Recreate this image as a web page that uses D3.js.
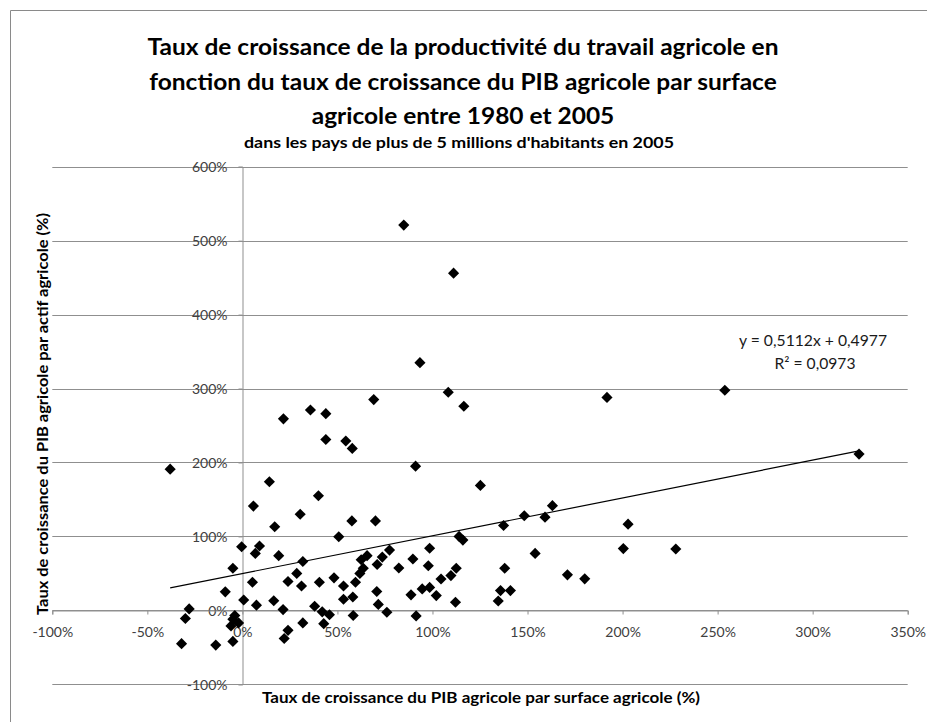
<!DOCTYPE html>
<html>
<head>
<meta charset="utf-8">
<script src="https://cdn.jsdelivr.net/npm/d3@7"></script>
<style>
  html, body { margin: 0; padding: 0; background: #fff; }
  svg { display: block; }
  text { font-family: Lato, "Open Sans", sans-serif; }
</style>
</head>
<body>
<svg id="chart" width="927" height="722"></svg>
<script>
// ---- Data (values in %) ----
const titleLines = [
  "Taux de croissance de la productivité du travail agricole en",
  "fonction du taux de croissance du PIB agricole par surface",
  "agricole entre 1980 et 2005"
];
const subtitle = "dans les pays de plus de 5 millions d'habitants en 2005";
const xAxisTitle = "Taux de croissance du PIB agricole par surface agricole (%)";
const yAxisTitle = "Taux de croissance du PIB agricole par actif agricole (%)";
const xTicks = [-100, -50, 0, 50, 100, 150, 200, 250, 300, 350];
const yTicks = [-100, 0, 100, 200, 300, 400, 500, 600];
// x: PIB agricole par surface growth (%)
const xValues = [
  -38, -28, -30, -32, -14, -5, -4, -5, -6, -2, -9, -5, -0.4,
  0.7, 7.4, 5.3, 6.8, 9, 5.8, 14.2, 17, 16.5, 19.1, 21.4, 21.6, 24, 24, 22,
  28.6, 31.8, 31.1, 31.8, 30.4, 35.8, 38, 40, 40.5, 42, 42.8, 43.9, 43.9, 45.8,
  48.2, 50.7, 53.2, 53.2, 54.4, 57.8, 57.6, 58.1, 58.3, 59.5,
  62.5, 65.6, 63.6, 61.8, 69.1, 70, 70.9, 70.7, 71.5, 73.6, 76, 77.4, 82.3,
  84.9, 88.7, 89.7, 91.1, 91.4, 93.4, 94.6, 97.8, 98.5, 98.5,
  102, 104.5, 108.3, 109.7, 111.1, 112.5, 112.1, 114, 116, 116.5, 125.2,
  134.6, 135.8, 137.4, 138, 141, 148.3, 154, 159.2, 163.1, 171, 180.1,
  191.8, 200.4, 202.9, 228, 253.8, 324.4
];
// y: productivité du travail agricole growth (%)
const yValues = [
  191, 2, -11, -45, -47, -42, -7, -12, -21, -17, 25, 57, 86,
  14, 7, 38, 77, 87, 141, 174, 113, 13, 74, 1, 259, 39, -27, -38,
  50, 66, 33, -17, 130, 271, 5.5, 155, 38, -2, -18, 266, 231, -6,
  44, 99.5, 33, 15, 229, 219, 121, 18, -7, 38,
  68.5, 74, 57, 50, 285, 121, 62, 25.5, 8, 72, -2.6, 81.5, 57.3,
  521, 21, 69.4, 195, -7.5, 335, 29, 60.4, 84, 31,
  20, 42.4, 295, 47, 456, 57, 11, 100, 95, 276, 169,
  12.7, 26.7, 114.7, 57, 26.7, 128, 77, 126, 141.6, 48, 42.6,
  288, 83.5, 116.6, 83, 297.6, 211.3
];
// Linear trend (Excel): y = 0,5112x + 0,4977  (fractions)
const trendSlope = 0.5112;
const trendIntercept = 0.4977;
const trendLabel = ["y = 0,5112x + 0,4977", "R² = 0,0973"];

// ---- Layout ----
const svg = d3.select("#chart");
const gridColor = "#8f8f8f";
const x = d3.scaleLinear().domain([-100, 350]).range([52.3, 907.7]);
const y = d3.scaleLinear().domain([-100, 600]).range([684.3, 166.7]);

// chart border (left & top visible)
svg.append("path")
  .attr("d", "M10.5,722 L10.5,10.5 L927,10.5")
  .attr("fill", "none").attr("stroke", "#8a8a8a").attr("stroke-width", 1);

function fit(sel, w) {
  sel.attr("textLength", w).attr("lengthAdjust", "spacingAndGlyphs");
}

// titles: uniform horizontal squeeze derived from first line width
const titleBase = [55, 90, 124];
const titleCx = 463;
const titleNodes = titleLines.map((t, i) =>
  svg.append("text").attr("x", titleCx).attr("y", titleBase[i])
    .attr("text-anchor", "middle").attr("font-size", 23.5).attr("font-weight", 700)
    .attr("fill", "#000").text(t));
const squeeze = 631 / titleNodes[0].node().getComputedTextLength();
titleNodes.forEach(n => n.call(fit, n.node().getComputedTextLength() * squeeze));

svg.append("text").attr("x", 459).attr("y", 148)
  .attr("text-anchor", "middle").attr("font-size", 16).attr("font-weight", 700)
  .attr("fill", "#000").text(subtitle).call(fit, 430);

// horizontal gridlines
svg.append("g").selectAll("line").data(yTicks).join("line")
  .attr("x1", x(-100)).attr("x2", x(350))
  .attr("y1", d => Math.round(y(d)) + 0.5).attr("y2", d => Math.round(y(d)) + 0.5)
  .attr("stroke", gridColor).attr("stroke-width", 1);

// y axis at x = 0
const yAxis = d3.axisLeft(y).tickValues(yTicks).tickSize(4).tickPadding(11)
  .tickFormat(d => d + "%");
const gy = svg.append("g").attr("transform", `translate(${Math.round(x(0)) + 0.5},0)`).call(yAxis);
gy.select(".domain").attr("stroke", gridColor);
gy.selectAll(".tick line").attr("stroke", gridColor);
gy.selectAll(".tick text").attr("font-family", "Lato, sans-serif").attr("font-size", 14)
  .attr("fill", "#404040").attr("dy", "0.36em");

// x axis at y = 0
const xAxis = d3.axisBottom(x).tickValues(xTicks).tickSize(4).tickPadding(13)
  .tickFormat(d => d + "%");
const gx = svg.append("g").attr("transform", `translate(0,${Math.round(y(0)) + 0.5})`).call(xAxis);
gx.select(".domain").attr("stroke", gridColor);
gx.selectAll(".tick line").attr("stroke", gridColor);
gx.selectAll(".tick text").attr("font-family", "Lato, sans-serif").attr("font-size", 14)
  .attr("fill", "#404040");

// axis titles
svg.append("text").attr("x", 481).attr("y", 703)
  .attr("text-anchor", "middle").attr("font-size", 15).attr("font-weight", 700)
  .attr("fill", "#000").text(xAxisTitle).call(fit, 438);
svg.append("text").attr("transform", "translate(48,414) rotate(-90)")
  .attr("text-anchor", "middle").attr("font-size", 15).attr("font-weight", 700)
  .attr("fill", "#000").text(yAxisTitle).call(fit, 402);

// points
const pts = xValues.map((v, i) => ({ x: v, y: yValues[i] }));
const sym = d3.symbol().type(d3.symbolSquare).size(62);
svg.append("g").selectAll("path").data(pts).join("path")
  .attr("d", sym)
  .attr("transform", d => `translate(${x(d.x)},${y(d.y)}) rotate(45)`)
  .attr("fill", "#000");

// trendline
const xMin = d3.min(xValues), xMax = d3.max(xValues);
const trend = [xMin, xMax].map(v => ({ x: v, y: (trendSlope * v / 100 + trendIntercept) * 100 }));
svg.append("path").datum(trend)
  .attr("d", d3.line().x(d => x(d.x)).y(d => y(d.y)))
  .attr("fill", "none").attr("stroke", "#000").attr("stroke-width", 1.2);

// trend label
svg.append("text").attr("x", 813).attr("y", 346).attr("text-anchor", "middle")
  .attr("font-size", 15.5).attr("fill", "#1a1a1a").text(trendLabel[0]).call(fit, 148);
svg.append("text").attr("x", 815).attr("y", 369).attr("text-anchor", "middle")
  .attr("font-size", 15.5).attr("fill", "#1a1a1a").text(trendLabel[1]).call(fit, 81);
</script>
</body>
</html>
